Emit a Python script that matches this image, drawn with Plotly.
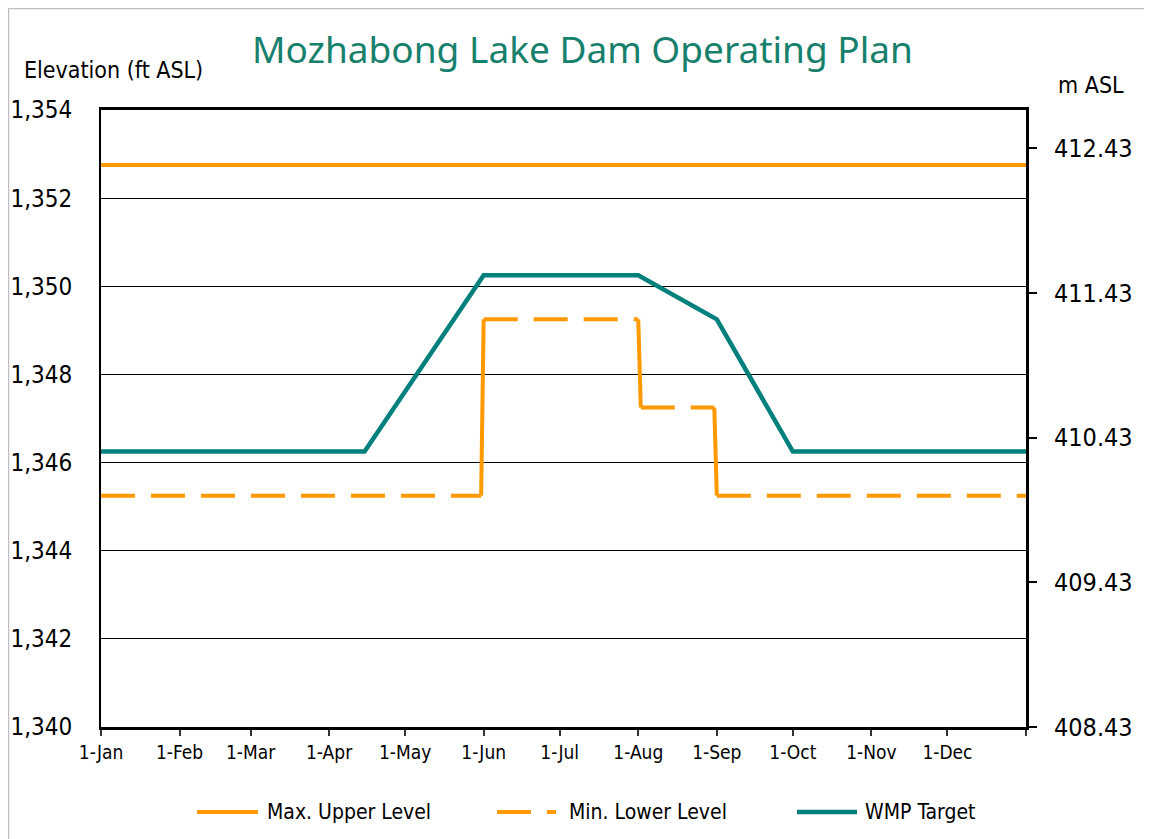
import plotly.graph_objects as go

FT_TO_M = 0.3048

# Chart values
MAX_DATES = ['2013-01-01', '2014-01-01']
MAX_LEVEL = [1352.75, 1352.75]

MIN_DATES = ['2013-01-01', '2013-05-31', '2013-06-01', '2013-08-01', '2013-08-02',
             '2013-08-31', '2013-09-01', '2014-01-01']
MIN_LEVEL = [1345.25, 1345.25, 1349.25, 1349.25, 1347.25, 1347.25, 1345.25, 1345.25]

WMP_DATES = ['2013-01-01', '2013-04-15', '2013-06-01', '2013-08-01', '2013-09-01',
             '2013-10-01', '2014-01-01']
WMP_LEVEL = [1346.25, 1346.25, 1350.25, 1350.25, 1349.25, 1346.25, 1346.25]

TICK_DATES = ['2013-01-01', '2013-02-01', '2013-03-01', '2013-04-01', '2013-05-01',
              '2013-06-01', '2013-07-01', '2013-08-01', '2013-09-01', '2013-10-01',
              '2013-11-01', '2013-12-01', '2014-01-01']
TICK_LABELS = ['1-Jan', '1-Feb', '1-Mar', '1-Apr', '1-May', '1-Jun', '1-Jul',
               '1-Aug', '1-Sep', '1-Oct', '1-Nov', '1-Dec', '']

FT_TICKS = [1340, 1342, 1344, 1346, 1348, 1350, 1352, 1354]
M_TICKS = [408.43, 409.43, 410.43, 411.43, 412.43]

ORANGE = '#FF9900'
TEAL = '#00807C'
TITLE_CLR = '#17806D'
FONT = 'DejaVu Sans Condensed, sans-serif'

MAX_LINE = dict(color=ORANGE, width=4)
MIN_LINE = dict(color=ORANGE, width=4, dash='34px,16px')
WMP_LINE = dict(color=TEAL, width=4.5)

# the min level steps are drawn solid, the flat stretches dashed (as in Excel)
flat_x, flat_y, step_x, step_y = [], [], [], []
for i in range(len(MIN_DATES) - 1):
    seg_x, seg_y = MIN_DATES[i:i + 2], MIN_LEVEL[i:i + 2]
    if MIN_LEVEL[i] == MIN_LEVEL[i + 1]:
        flat_x += seg_x + [None]
        flat_y += seg_y + [None]
    else:
        step_x += seg_x + [None]
        step_y += seg_y + [None]

fig = go.Figure()
fig.add_trace(go.Scatter(x=MAX_DATES, y=MAX_LEVEL, mode='lines',
                         name='Max. Upper Level', line=MAX_LINE))
fig.add_trace(go.Scatter(x=flat_x, y=flat_y, mode='lines',
                         name='Min. Lower Level', line=MIN_LINE))
fig.add_trace(go.Scatter(x=step_x, y=step_y, mode='lines',
                         name='Min. Lower Level', line=dict(color=ORANGE, width=4)))
fig.add_trace(go.Scatter(x=WMP_DATES, y=WMP_LEVEL, mode='lines',
                         name='WMP Target', line=WMP_LINE))
# metre scale carrier for the right axis
fig.add_trace(go.Scatter(
    x=MAX_DATES, y=[v * FT_TO_M for v in MAX_LEVEL], yaxis='y2',
    mode='lines', line=dict(width=0, color='rgba(0,0,0,0)'), hoverinfo='skip',
))

# hand-drawn legend (Excel style: long line samples)
LEG_Y = -0.1378
LEGEND = [
    ('Max. Upper Level', MAX_LINE, 0.1038, 0.1697, 0.1773),
    ('Min. Lower Level', MIN_LINE, 0.4281, 0.4919, 0.5038),
    ('WMP Target', WMP_LINE, 0.7524, 0.8173, 0.8238),
]
shapes = [dict(type='rect', xref='paper', yref='paper',
               x0=-0.1, x1=1.2, y0=-0.3, y1=1.1645,
               line=dict(color='#BFBFBF', width=1.5))]
annotations = [
    dict(text='Elevation (ft ASL)', xref='paper', yref='paper',
         x=-0.0854, xanchor='left', y=1.0648, yanchor='middle',
         showarrow=False, font=dict(size=23)),
    dict(text='m ASL', xref='paper', yref='paper',
         x=1.0324, xanchor='left', y=1.0405, yanchor='middle',
         showarrow=False, font=dict(size=23)),
]
for name, line, x0, x1, xt in LEGEND:
    shapes.append(dict(type='line', xref='paper', yref='paper',
                       x0=x0, x1=x1, y0=LEG_Y, y1=LEG_Y, line=line))
    annotations.append(dict(text=name, xref='paper', yref='paper',
                            x=xt, xanchor='left', y=LEG_Y, yanchor='middle',
                            showarrow=False, font=dict(size=21)))

fig.update_layout(
    width=1144, height=831,
    paper_bgcolor='white', plot_bgcolor='white',
    font=dict(family=FONT, color='#000', size=20),
    margin=dict(l=93, r=126, t=102, b=112),
    title=dict(
        text='Mozhabong Lake Dam Operating Plan',
        xref='paper', x=0.5205, xanchor='center', y=0.9495, yanchor='middle',
        font=dict(family='Noto Sans, sans-serif', size=37, color=TITLE_CLR),
    ),
    xaxis=dict(
        type='date', range=['2013-01-01', '2014-01-01'],
        tickvals=TICK_DATES, ticktext=TICK_LABELS,
        ticks='outside', ticklen=6, tickwidth=1.5, tickcolor='#333',
        showgrid=False, zeroline=False, automargin=False,
        showline=True, linecolor='#000', linewidth=2.5, mirror=True,
        tickfont=dict(size=19),
    ),
    yaxis=dict(
        range=[1340, 1354], tickvals=FT_TICKS, tickformat=',d',
        showgrid=True, gridcolor='#000', gridwidth=1,
        zeroline=False, ticks='', ticklabelstandoff=22, automargin=False,
        showline=True, linecolor='#000', linewidth=2,
        tickfont=dict(size=24),
    ),
    yaxis2=dict(
        range=[1340 * FT_TO_M - 0.003, 1354 * FT_TO_M - 0.003],
        tickvals=M_TICKS, tickformat='.2f',
        overlaying='y', side='right', showgrid=False, zeroline=False,
        ticks='outside', ticklen=8, tickwidth=1.5, tickcolor='#000',
        ticklabelstandoff=12, automargin=False,
        showline=True, linecolor='#000', linewidth=3,
        tickfont=dict(size=25),
    ),
    shapes=shapes,
    annotations=annotations,
    showlegend=False, hovermode='closest',
)

fig.write_html('out.html')
